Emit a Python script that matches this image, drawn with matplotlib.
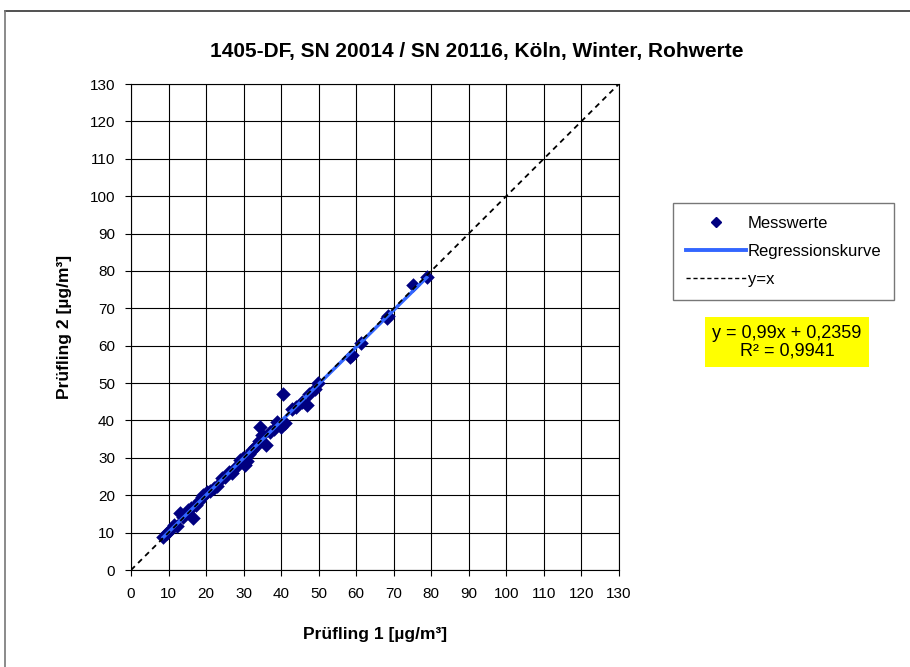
import matplotlib
matplotlib.use("Agg")
import matplotlib.pyplot as plt
from matplotlib.lines import Line2D
import numpy as np

plt.rcParams['font.family'] = ['Liberation Sans', 'DejaVu Sans']

# Messwerte (Prüfling 1, Prüfling 2) in µg/m³
pruefling1 = [8.6, 9.5, 10.5, 11.5, 12.2, 13.0, 13.8, 14.5, 15.3, 16.0, 16.6, 17.4, 18.2,
              19.0, 19.3, 20.2, 21.0, 22.0, 23.0, 24.2, 25.0, 26.0, 26.8, 28.0, 29.0,
              29.8, 30.3, 31.0, 31.5, 32.2, 33.0, 34.0, 34.4, 35.0, 36.1, 37.0, 38.0,
              39.0, 40.0, 40.6, 41.0, 43.0, 44.0, 45.5, 46.8, 47.5, 49.0, 49.8,
              58.3, 59.0, 61.4, 68.1, 68.6, 75.2, 78.8]
pruefling2 = [8.9, 9.8, 10.8, 12.0, 11.8, 15.2, 14.2, 15.0, 16.0, 16.5, 13.9, 17.5, 18.5,
              19.5, 20.1, 21.0, 21.2, 22.0, 22.5, 24.5, 24.8, 26.2, 25.9, 27.5, 29.5,
              30.0, 28.2, 29.2, 31.0, 32.0, 33.0, 34.5, 38.3, 36.0, 33.4, 37.0, 37.8,
              39.5, 38.3, 47.1, 39.3, 43.0, 43.6, 45.0, 44.1, 47.0, 48.5, 50.0,
              57.1, 57.5, 60.6, 67.3, 68.0, 76.2, 78.5]

steigung = 0.99
achsenabschnitt = 0.2359
r2 = 0.9941

ticks = list(range(0, 131, 10))

fig = plt.figure(figsize=(9.1, 6.67), dpi=100)
ax = fig.add_axes([0.144, 0.1454, 0.536, 0.7286])

ax.set_xlim(0, 130)
ax.set_ylim(0, 130)
ax.set_xticks(ticks)
ax.set_yticks(ticks)
ax.tick_params(labelsize=11, direction='out', length=4, width=0.8, color='black')
ax.tick_params(axis='x', pad=8)
ax.tick_params(axis='y', pad=7.5)
ax.grid(True, color='black', linewidth=0.8)
ax.set_axisbelow(True)
for s in ax.spines.values():
    s.set_color('black')
    s.set_linewidth(0.8)

ax.scatter(pruefling1, pruefling2, marker='D', s=55, color='#000080', zorder=3, linewidths=0)

xr = np.array([min(pruefling1), max(pruefling1)])
ax.plot(xr, steigung * xr + achsenabschnitt, color='#3366ff', linewidth=2.5, zorder=4)
ax.plot([0, 130], [0, 130], color='black', linestyle=(0, (3, 2.5)), linewidth=1.3, zorder=5)

ax.set_xlabel('Prüfling 1 [µg/m³]', fontsize=12.5, fontweight='bold')
ax.set_ylabel('Prüfling 2 [µg/m³]', fontsize=12.5, fontweight='bold')
ax.xaxis.set_label_coords(0.5, -0.132)
ax.yaxis.set_label_coords(-0.137, 0.5)
ax.xaxis.label.set_va('center')
ax.yaxis.label.set_va('center')

fig.text(477 / 910, 1 - 52 / 667, '1405-DF, SN 20014 / SN 20116, Köln, Winter, Rohwerte',
         ha='center', va='center', fontsize=15, fontweight='bold')

handles = [
    Line2D([], [], marker='D', linestyle='none', color='#000080', markersize=5.5),
    Line2D([], [], color='#3366ff', linewidth=2.8),
    Line2D([], [], color='black', linestyle=(0, (3, 2)), linewidth=1),
]
leg = fig.legend(handles, ['Messwerte', 'Regressionskurve', 'y=x'],
                 loc='upper left', bbox_to_anchor=(673 / 910, 1 - 203 / 667),
                 fontsize=12, frameon=True, fancybox=False, edgecolor='#555555',
                 labelspacing=0.8, handlelength=3.6, handletextpad=0.15,
                 borderpad=0.75, borderaxespad=0)
leg.get_frame().set_linewidth(1)

fig.text(787 / 910, 1 - 342 / 667, 'y = 0,99x + 0,2359\nR² = 0,9941',
         ha='center', va='center', fontsize=13, linespacing=1.0,
         bbox=dict(boxstyle='square,pad=0.42', facecolor='#ffff00', edgecolor='none'))

# Rahmen um das Diagramm
fig.add_artist(Line2D([5 / 910, 1], [1 - 11 / 667, 1 - 11 / 667], color='#333333', linewidth=1.2))
fig.add_artist(Line2D([5 / 910, 5 / 910], [0, 1 - 11 / 667], color='#777777', linewidth=1.2))

fig.savefig('out.png', dpi=100)
